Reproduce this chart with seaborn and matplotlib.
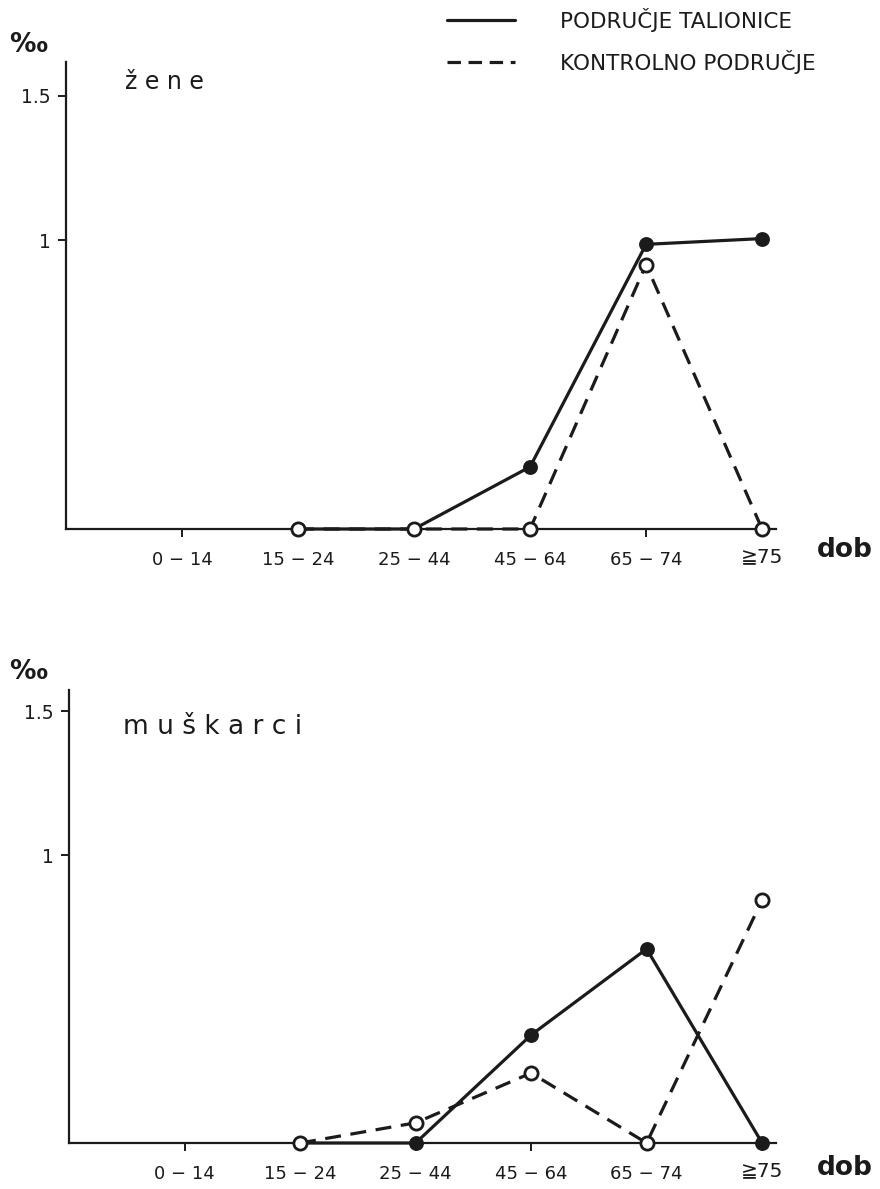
import numpy as np
import pandas as pd
import matplotlib
matplotlib.use("Agg")
import matplotlib.pyplot as plt
from matplotlib.lines import Line2D
from matplotlib.transforms import ScaledTranslation
import seaborn as sns

# Age groups (x axis) and rates per mille
dob = ["0 − 14", "15 − 24", "25 − 44", "45 − 64", "65 − 74", "≧75"]

zene_talionice = [np.nan, 0.0, 0.0, 0.215, 0.985, 1.005]
zene_kontrolno = [np.nan, 0.0, 0.0, 0.0, 0.915, 0.0]

muskarci_talionice = [np.nan, 0.0, 0.0, 0.375, 0.674, 0.0]
muskarci_kontrolno = [np.nan, 0.0, 0.07, 0.243, 0.0, 0.844]

legend_labels = ["PODRUČJE TALIONICE", "KONTROLNO PODRUČJE"]
panel_titles = ["ž e n e", "m u š k a r c i"]

sns.set_theme(style="white")
plt.rcParams["font.family"] = ["DejaVu Sans"]

INK = "#1b1b1b"
LW = 2.3
MS = 9.5
DASH = (5.0, 3.0)

fig = plt.figure(figsize=(8.8, 11.89), dpi=100)
W, H = 880, 1189

ax_top = fig.add_axes([66 / W, 1 - 529 / H, 710 / W, 467 / H])
ax_bot = fig.add_axes([69 / W, 1 - 1143 / H, 707 / W, 453 / H])

xpos = np.arange(len(dob))


def draw_panel(ax, solid_vals, dashed_vals, ytop):
    df_s = pd.DataFrame({"x": xpos, "y": solid_vals})
    df_d = pd.DataFrame({"x": xpos, "y": dashed_vals})
    sns.lineplot(data=df_s, x="x", y="y", ax=ax, color=INK, lw=LW,
                 marker="o", markersize=MS, markerfacecolor=INK,
                 markeredgecolor=INK, markeredgewidth=1.2,
                 estimator=None, errorbar=None, clip_on=False, zorder=4)
    sns.lineplot(data=df_d, x="x", y="y", ax=ax, color=INK, lw=LW,
                 marker="o", markersize=MS, markerfacecolor="white",
                 markeredgecolor=INK, markeredgewidth=2.0,
                 estimator=None, errorbar=None, clip_on=False, zorder=5)
    ax.lines[-1].set_dashes(DASH)

    ax.set_xlim(-1, 5.12)
    ax.set_ylim(0, ytop)
    ax.set_xticks(xpos)
    ax.set_xticklabels(dob, fontsize=13, color=INK)
    ax.set_yticks([1, 1.5])
    ax.set_yticklabels(["1", "1.5"], fontsize=13.5, color=INK)
    ax.set_xlabel("")
    ax.set_ylabel("")
    for side in ["top", "right"]:
        ax.spines[side].set_visible(False)
    for side in ["left", "bottom"]:
        ax.spines[side].set_color(INK)
        ax.spines[side].set_linewidth(1.6)
    ax.tick_params(axis="x", direction="out", length=6, width=1.4,
                   colors=INK, pad=10, bottom=True)
    ax.tick_params(axis="y", direction="out", length=6, width=1.4,
                   colors=INK, pad=5, left=True)
    ax.set_facecolor("white")
    # the tall ≧ glyph pushes its label down; lift it back to the row
    last = ax.get_xticklabels()[-1]
    last.set_fontsize(14.5)
    last.set_transform(last.get_transform()
                       + ScaledTranslation(0, 3 / 72, fig.dpi_scale_trans))


draw_panel(ax_top, zene_talionice, zene_kontrolno, 1.616)
draw_panel(ax_bot, muskarci_talionice, muskarci_kontrolno, 1.573)

# panel titles
fig.text(125 / W, 1 - 82 / H, panel_titles[0], fontsize=17,
         color=INK, ha="left", va="center")
fig.text(123 / W, 1 - 727 / H, panel_titles[1], fontsize=19,
         color=INK, ha="left", va="center")

# per-mille unit labels above the y axes
fig.text(28 / W, 1 - 45 / H, "‰", fontsize=19, fontweight="bold",
         color=INK, ha="center", va="center")
fig.text(28 / W, 1 - 672 / H, "‰", fontsize=19, fontweight="bold",
         color=INK, ha="center", va="center")

# x axis name at the right end of each axis
fig.text(845 / W, 1 - 550 / H, "dob", fontsize=19, fontweight="bold",
         color=INK, ha="center", va="center")
fig.text(845 / W, 1 - 1168 / H, "dob", fontsize=19, fontweight="bold",
         color=INK, ha="center", va="center")

# legend keys and labels in the upper right corner
key_solid = Line2D([447 / W, 515 / W], [1 - 20 / H, 1 - 20 / H],
                   transform=fig.transFigure, color=INK, lw=LW)
key_dash = Line2D([447 / W, 515 / W], [1 - 62 / H, 1 - 62 / H],
                  transform=fig.transFigure, color=INK, lw=LW)
key_dash.set_dashes((4.2, 2.4))
fig.add_artist(key_solid)
fig.add_artist(key_dash)
fig.text(560 / W, 1 - 20 / H, legend_labels[0], fontsize=15.5,
         color=INK, ha="left", va="center")
fig.text(560 / W, 1 - 62 / H, legend_labels[1], fontsize=15.5,
         color=INK, ha="left", va="center")

fig.savefig("out.png", dpi=100, facecolor="white")
